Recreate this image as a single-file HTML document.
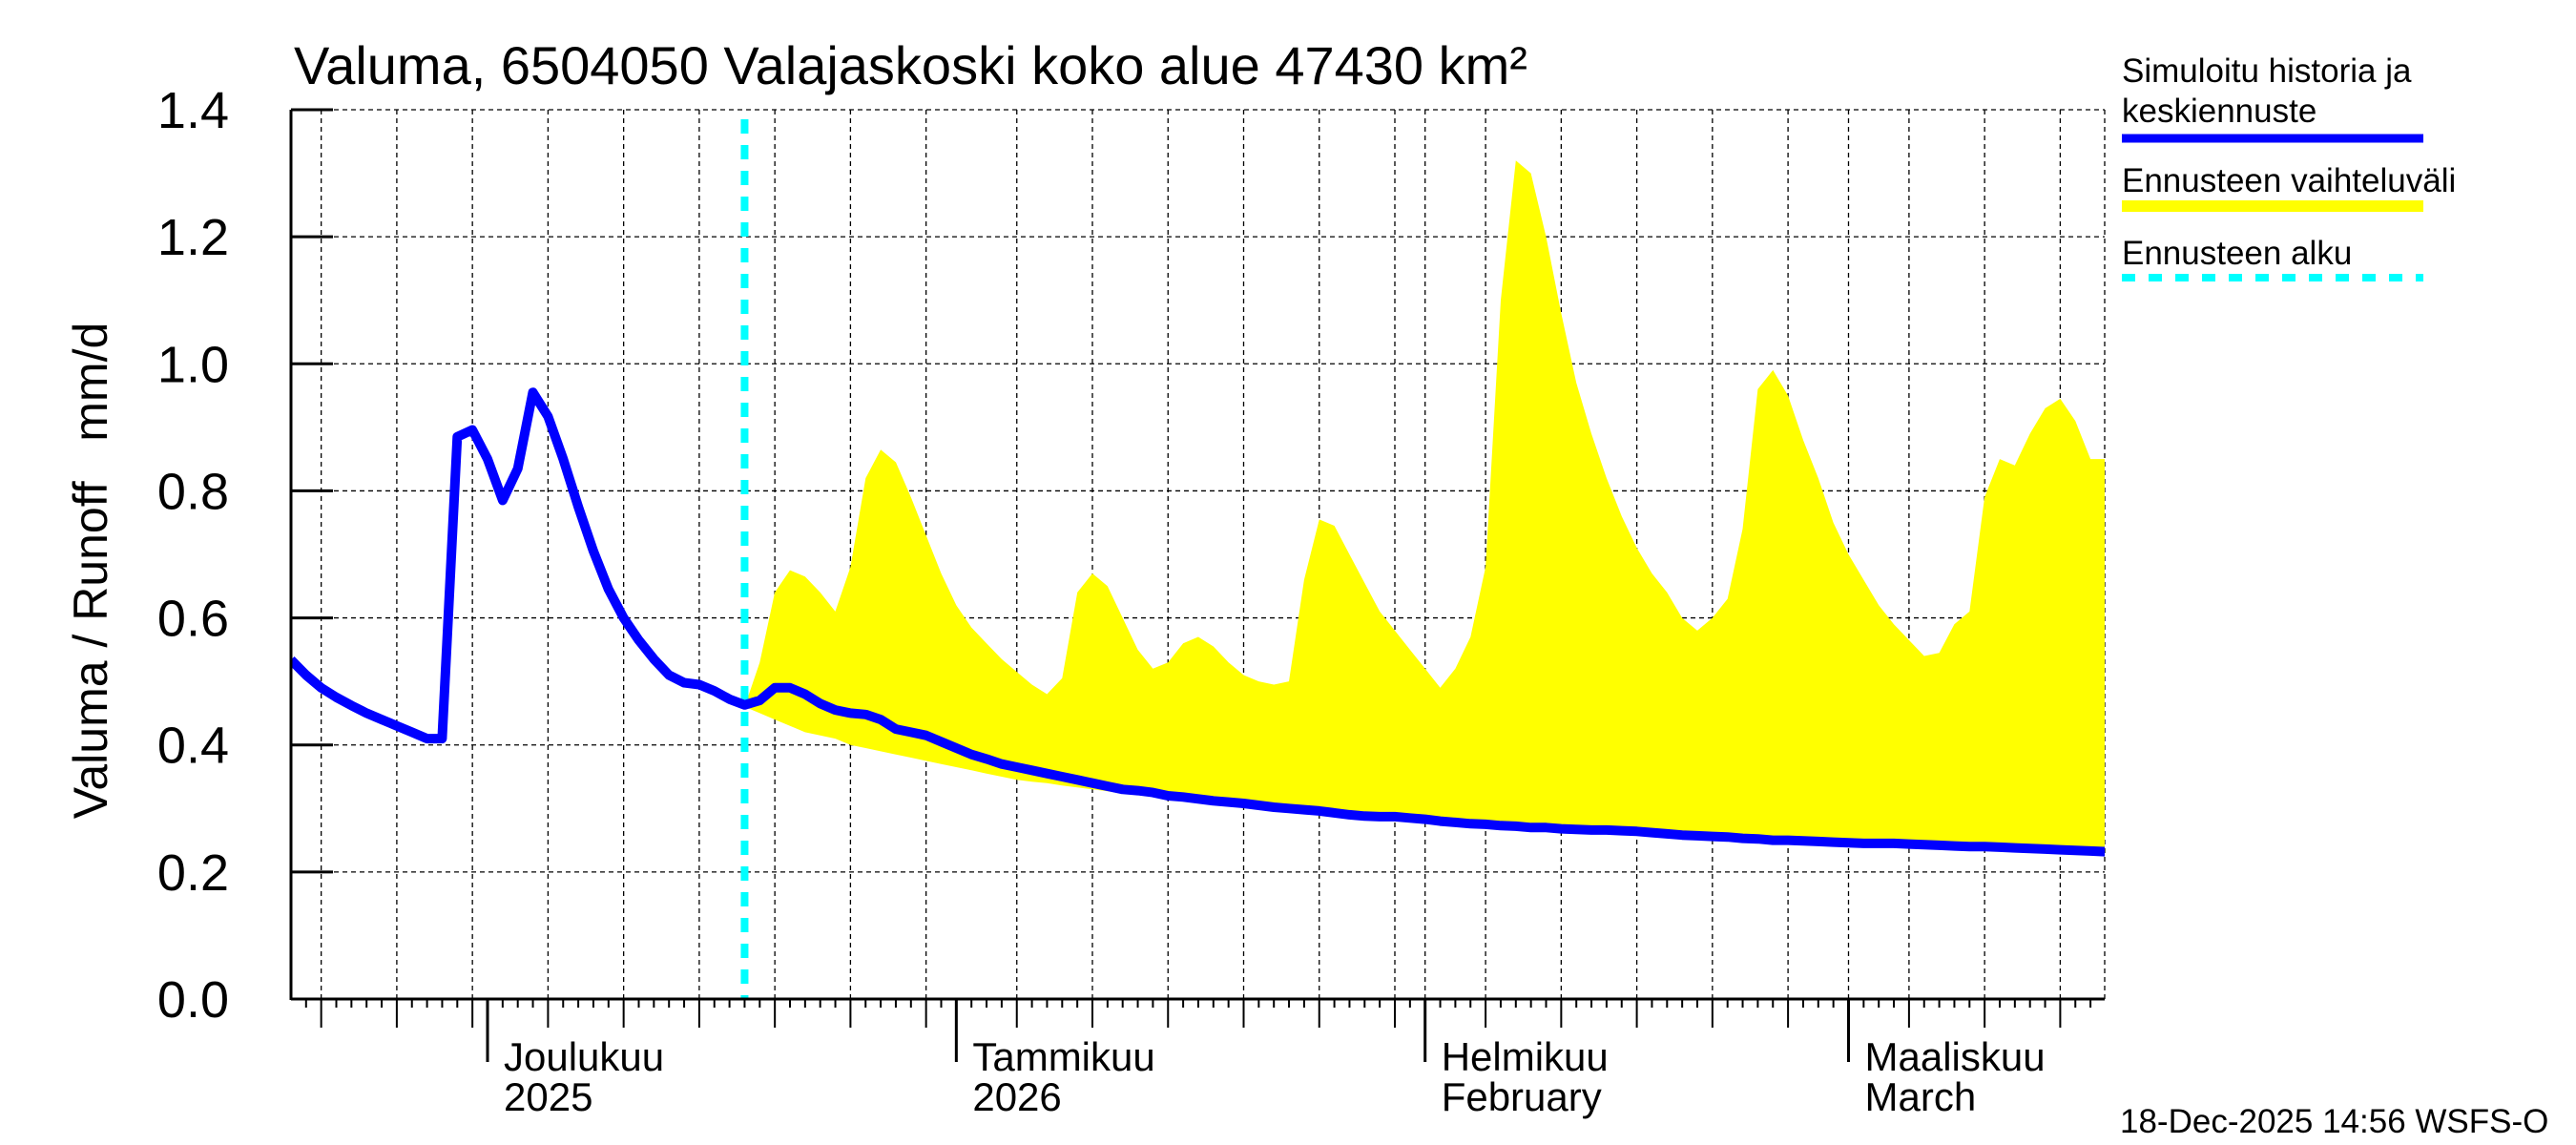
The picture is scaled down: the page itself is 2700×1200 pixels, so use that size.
<!DOCTYPE html>
<html><head><meta charset="utf-8"><style>
html,body{margin:0;padding:0;background:#fff;}
svg{display:block;font-family:"Liberation Sans",sans-serif;}
</style></head><body>
<svg id="chart" width="2700" height="1200" viewBox="0 0 2700 1200" xmlns="http://www.w3.org/2000/svg">
<text x="308" y="88" font-size="56">Valuma, 6504050 Valajaskoski koko alue 47430 km²</text>
<text transform="translate(112,598) rotate(-90)" text-anchor="middle" font-size="50" xml:space="preserve" style="white-space:pre">Valuma / Runoff   mm/d</text>
<g id="grid"></g>
<g id="band"></g>
<g id="marks"></g>
<g id="axes"></g>
<g>
<text x="2224" y="86" font-size="35">Simuloitu historia ja</text>
<text x="2224" y="128" font-size="35">keskiennuste</text>
<line x1="2224" y1="145" x2="2540" y2="145" stroke="#0000ff" stroke-width="9"/>
<text x="2224" y="201" font-size="35">Ennusteen vaihteluväli</text>
<line x1="2224" y1="216" x2="2540" y2="216" stroke="#ffff00" stroke-width="12"/>
<text x="2224" y="277" font-size="35">Ennusteen alku</text>
<line x1="2224" y1="291" x2="2540" y2="291" stroke="#00ffff" stroke-width="8" stroke-dasharray="14 14"/>
</g>
<text x="2222" y="1187" font-size="35">18-Dec-2025 14:56 WSFS-O</text>
</svg>
<script>
// day index: 0 = 1 Dec 2025
const yTicks = [0,0.2,0.4,0.6,0.8,1.0,1.2,1.4];
const yTickLabels = ["0.0","0.2","0.4","0.6","0.8","1.0","1.2","1.4"];
const monthDays = [0,31,62,90];
const monthLabels = ["Joulukuu","Tammikuu","Helmikuu","Maaliskuu"];
const monthLabels2 = ["2025","2026","February","March"];
const historyStart = -13;
const history = [.534,.51,.49,.475,.462,.45,.44,.43,.42,.41,.41,.885,.896,.85,.785,.835,.955,.917,.85,.775,.705,.645,.6,.565,.535,.51,.498,.495,.485,.472,.463];
const forecastStart = 17;
const forecastMean = [.47,.49,.49,.48,.465,.455,.45,.448,.44,.425,.42,.415,.405,.395,.385,.378,.37,.365,.36,.355,.35,.345,.34,.335,.33,.328,.325,.32,.318,.315,.312,.31,.308,.305,.302,.30,.298,.296,.293,.29,.288,.287,.287,.285,.283,.28,.278,.276,.275,.273,.272,.27,.27,.268,.267,.266,.266,.265,.264,.262,.26,.258,.257,.256,.255,.253,.252,.25,.25,.249,.248,.247,.246,.245,.245,.245,.244,.243,.242,.241,.24,.24,.239,.238,.237,.236,.235,.234,.233,.232];
const rangeUpper = [.46,.53,.64,.675,.665,.64,.61,.68,.82,.865,.845,.79,.73,.67,.62,.585,.56,.535,.515,.495,.48,.505,.64,.67,.65,.60,.55,.52,.53,.56,.57,.555,.53,.51,.50,.495,.50,.66,.755,.745,.70,.655,.61,.58,.55,.52,.49,.52,.57,.68,1.1,1.32,1.30,1.2,1.08,.97,.89,.82,.76,.71,.67,.64,.60,.58,.60,.63,.74,.96,.99,.95,.88,.82,.75,.70,.66,.62,.59,.565,.54,.545,.59,.61,.79,.85,.84,.89,.93,.945,.91,.85,.85];
const rangeLower = [.46,.45,.44,.43,.42,.415,.41,.40,.395,.39,.385,.38,.375,.37,.365,.36,.355,.35,.345,.342,.34,.336,.333,.33,.327,.324,.321,.318,.315,.312,.31,.308,.306,.304,.302,.30,.298,.296,.294,.292,.29,.288,.286,.284,.282,.28,.278,.277,.275,.274,.272,.27,.269,.268,.266,.265,.264,.262,.261,.26,.259,.258,.257,.256,.255,.254,.253,.252,.251,.25,.249,.248,.247,.246,.245,.244,.243,.242,.241,.24,.239,.238,.237,.236,.235,.234,.233,.232,.231,.23,.229];

const L=305,R=2206,T=115,B=1047,X0=511,PX=15.85;
const xs=d=>X0+d*PX;
const ys=v=>B-(v/1.4)*(B-T);
const NS="http://www.w3.org/2000/svg";
function mk(tag,parent,attrs){const e=document.createElementNS(NS,tag);for(const k in attrs)e.setAttribute(k,attrs[k]);parent.appendChild(e);return e;}
const grid=document.getElementById('grid'),band=document.getElementById('band'),marks=document.getElementById('marks'),axes=document.getElementById('axes');
const dMin=Math.ceil((L-X0)/PX),dMax=Math.floor((R-X0)/PX);
const mStarts=[-30,0,31,62,90,121];
function dom(d){for(let i=mStarts.length-2;i>=0;i--){if(d>=mStarts[i])return d-mStarts[i]+1;}return 0;}
yTicks.forEach((v,i)=>{
 if(i>0){const g=mk('line',grid,{x1:L,x2:R,y1:ys(v),y2:ys(v),stroke:'#000','stroke-width':1.3,'stroke-dasharray':'5 4'});
 }
 const t=mk('line',axes,{x1:L,x2:L+44,y1:ys(v),y2:ys(v),stroke:'#000','stroke-width':3});
 
 const lb=mk('text',axes,{x:240,y:ys(v)+19,'text-anchor':'end','font-size':54});
 lb.textContent=yTickLabels[i];
 
});
for(let d=dMin;d<=dMax;d++){
 const x=xs(d),m=dom(d);
 const isMonth=m===1,five=(m%5===0);
 if(five||(isMonth&&d>=60)){const g=mk('line',grid,{x1:x,x2:x,y1:T,y2:B,stroke:'#000','stroke-width':1.3,'stroke-dasharray':'5 4'});
  }
 const len=isMonth?66:(five?30:9);
 const t=mk('line',axes,{x1:x,x2:x,y1:B,y2:B+len,stroke:'#000','stroke-width':isMonth?3:2});
 
}
const rg=mk('line',grid,{x1:R,x2:R,y1:T,y2:B,stroke:'#000','stroke-width':1.3,'stroke-dasharray':'5 4'});

monthDays.forEach((d,i)=>{
 const a=mk('text',axes,{x:xs(d)+17,y:1122,'font-size':42});a.textContent=monthLabels[i];
 
 const b=mk('text',axes,{x:xs(d)+17,y:1164,'font-size':42});b.textContent=monthLabels2[i];
 
});
let pts=[];
rangeUpper.forEach((v,i)=>pts.push(xs(forecastStart+i).toFixed(1)+','+ys(v).toFixed(1)));
for(let i=rangeLower.length-1;i>=0;i--)pts.push(xs(forecastStart+i).toFixed(1)+','+ys(rangeLower[i]).toFixed(1));
mk('clipPath',document.getElementById('chart'),{id:'pc'}).appendChild(document.createElementNS(NS,'rect'));
const cr=document.querySelector('#pc rect');cr.setAttribute('x',L);cr.setAttribute('y',T-10);cr.setAttribute('width',R-L);cr.setAttribute('height',B-T+10);
const poly=mk('polygon',band,{points:pts.join(' '),fill:'#ffff00','clip-path':'url(#pc)'});

const fl=mk('line',marks,{x1:xs(forecastStart),x2:xs(forecastStart),y1:T+10,y2:B,stroke:'#00ffff','stroke-width':8,'stroke-dasharray':'15 12'});

let lp=[];
history.forEach((v,i)=>lp.push(xs(historyStart+i).toFixed(1)+','+ys(v).toFixed(1)));
forecastMean.forEach((v,i)=>lp.push(xs(forecastStart+1+i).toFixed(1)+','+ys(v).toFixed(1)));
const ml=mk('polyline',marks,{points:lp.join(' '),fill:'none',stroke:'#0000ff','stroke-width':10,'stroke-linejoin':'round','clip-path':'url(#pc)'});

const ax=mk('line',axes,{x1:L,x2:L,y1:T,y2:B+1,stroke:'#000','stroke-width':3});

const bx=mk('line',axes,{x1:L,x2:R,y1:B,y2:B,stroke:'#000','stroke-width':3});

</script>
</body></html>
